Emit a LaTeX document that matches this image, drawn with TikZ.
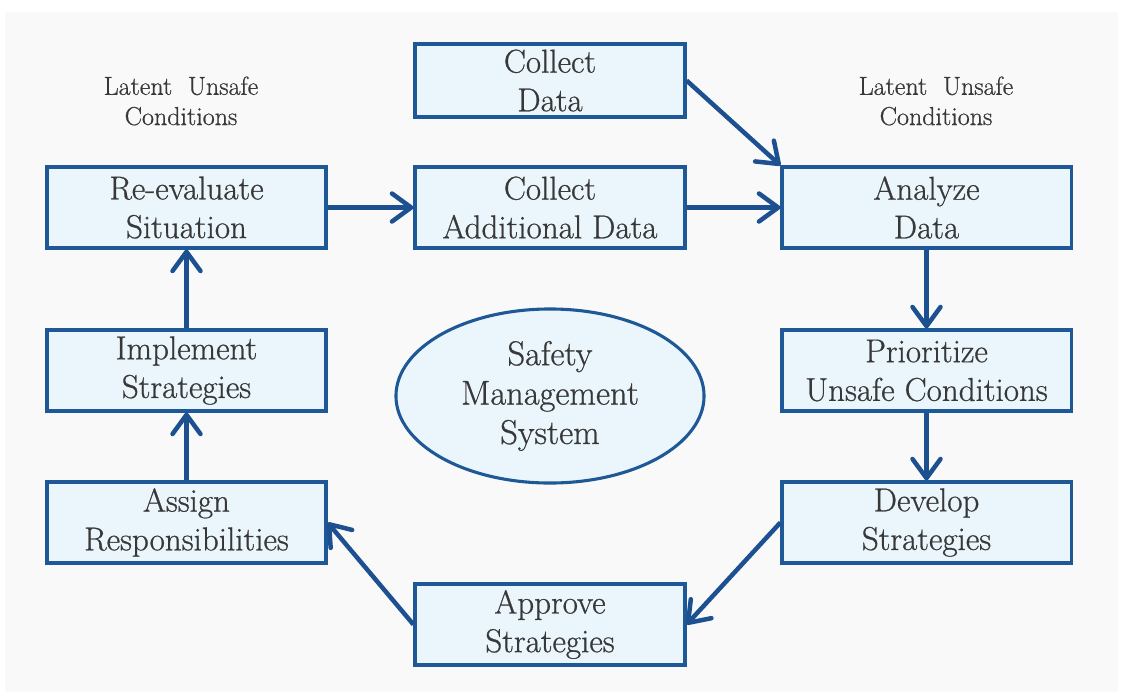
\documentclass[tikz,border=0pt]{standalone}
\usepackage{fontspec}
\usetikzlibrary{arrows.meta,shapes.geometric}
\newfontfamily\diagfont{Latin Modern Roman}[FakeBold=0.7]
\definecolor{boxblue}{RGB}{31,88,150}
\definecolor{arrowblue}{RGB}{28,80,145}
\definecolor{boxfill}{RGB}{234,246,252}
\definecolor{textgray}{RGB}{56,56,56}
\definecolor{backgray}{RGB}{249,249,249}
\begin{document}
\begin{tikzpicture}[x=0.025cm, y=-0.025cm,
        stepbox/.style={draw=boxblue, line width=2.2pt, fill=boxfill, text=textgray,
            align=center, inner sep=0pt, minimum height=2.025cm,
            font=\diagfont\fontsize{23.5}{27.5}\selectfont},
        flow/.style={draw=arrowblue, line width=3.2pt,
            -{Straight Barb[length=4.8mm, width=7mm, round]}},
        note/.style={text=textgray, align=center, font=\diagfont\fontsize{18.5}{21.5}\selectfont}]
        \fill[white](0, 0) rectangle (1123, 698);
        \fill[backgray](5, 12) rectangle (1118, 692);
        \node[note] (lnoteleft) at(181, 101){Latent\ \ Unsafe\\Conditions};
        \node[note] (lnoteright) at(936, 101){Latent\ \ Unsafe\\Conditions};
        \node[stepbox, minimum width=6.75cm, minimum height=1.825cm] (cdata) at(550, 80.5){Collect\\Data};
        \node[stepbox, minimum width=6.75cm] (cadd) at(550, 207.5){Collect\\Additional Data};
        \node[stepbox, minimum width=6.975cm] (reeval) at(186.5, 207.5){Re-evaluate\\Situation};
        \node[stepbox, minimum width=7.225cm] (analyze) at(926.5, 207.5){Analyze\\Data};
        \node[stepbox, minimum width=7.225cm] (prior) at(926.5, 370.5){Prioritize\\Unsafe Conditions};
        \node[stepbox, minimum width=7.225cm] (develop) at(926.5, 522.5){Develop\\Strategies};
        \node[stepbox, minimum width=6.75cm] (approve) at(550, 624.5){Approve\\Strategies};
        \node[stepbox, minimum width=6.975cm] (assign) at(186.5, 522.5){Assign\\Responsibilities};
        \node[stepbox, minimum width=6.975cm] (implement) at(186.5, 370.5){Implement\\Strategies};
        \node[ellipse, draw=boxblue, line width=2.2pt, fill=boxfill, text=textgray, align=center,
            inner sep=0pt, minimum width=7.7cm, minimum height=4.35cm,
            font=\diagfont\fontsize{24.5}{28}\selectfont] (sms) at(550, 396){Safety\\Management\\System};
        \draw[flow](cdata.east) -- (analyze.north west);
        \draw[flow](reeval) -- (cadd);
        \draw[flow](cadd) -- (analyze);
        \draw[flow](analyze) -- (prior);
        \draw[flow](prior) -- (develop);
        \draw[flow](develop.west) -- (approve.east);
        \draw[flow](approve.west) -- (assign.east);
        \draw[flow](assign) -- (implement);
        \draw[flow](implement) -- (reeval);
        \end{tikzpicture}
\end{document}
